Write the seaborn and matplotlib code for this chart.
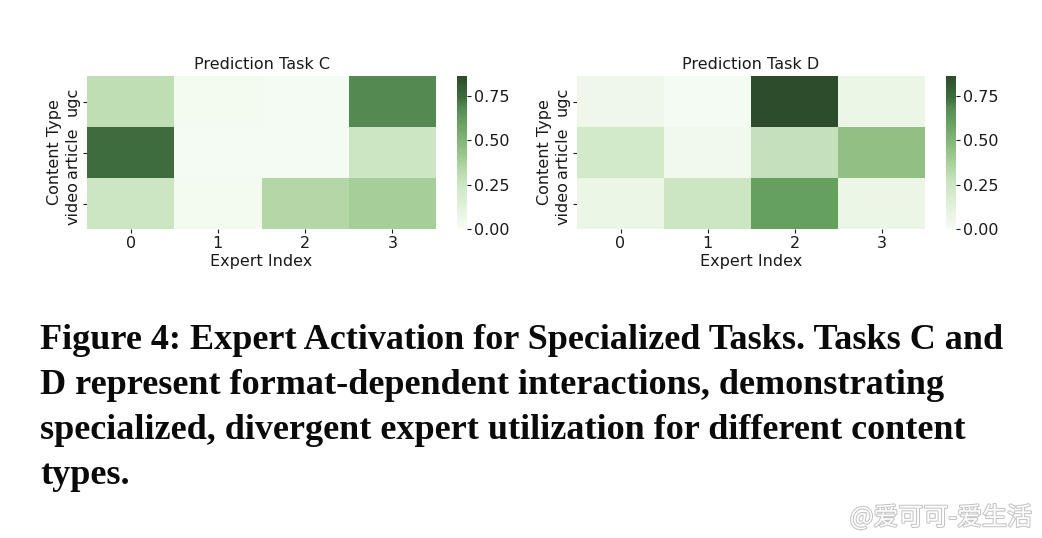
import numpy as np
import pandas as pd
import matplotlib
matplotlib.use("Agg")
import matplotlib.pyplot as plt
import matplotlib.patheffects as pe
from matplotlib.colors import LinearSegmentedColormap
import seaborn as sns

content_types = ["ugc", "article", "video"]
experts = ["0", "1", "2", "3"]
task_c = [
    [0.30, 0.03, 0.02, 0.68],
    [0.74, 0.02, 0.02, 0.25],
    [0.25, 0.03, 0.34, 0.38],
]
task_d = [
    [0.06, 0.02, 0.86, 0.07],
    [0.22, 0.04, 0.28, 0.45],
    [0.07, 0.25, 0.60, 0.07],
]
titles = ["Prediction Task C", "Prediction Task D"]
caption = ("Figure 4: Expert Activation for Specialized Tasks. Tasks C and\n"
           "D represent format-dependent interactions, demonstrating\n"
           "specialized, divergent expert utilization for different content\n"
           "types.")

sns.set_theme(style="white")
plt.rcParams['font.family'] = ['DejaVu Sans']
plt.rcParams['text.color'] = '#1a1a1a'
plt.rcParams['axes.labelcolor'] = '#1a1a1a'
plt.rcParams['xtick.color'] = '#1a1a1a'
plt.rcParams['ytick.color'] = '#1a1a1a'

cmap = LinearSegmentedColormap.from_list("greens_custom", [
    (0.00, "#f7fcf5"),
    (0.12, "#e6f3e0"),
    (0.30, "#cbe5c2"),
    (0.40, "#b2d6a5"),
    (0.52, "#92c084"),
    (0.70, "#66a05f"),
    (0.79, "#568a53"),
    (0.86, "#3f6d3e"),
    (1.00, "#2d4c2b"),
])
vmax = max(np.max(task_c), np.max(task_d))

fig = plt.figure(figsize=(10.42, 5.38), dpi=100)
W, H = 1042, 538
def rect(x0, y0, x1, y1):
    return [x0 / W, 1 - y1 / H, (x1 - x0) / W, (y1 - y0) / H]

axes = [fig.add_axes(rect(87, 76, 436, 229)), fig.add_axes(rect(577, 76, 925, 229))]
caxes = [fig.add_axes(rect(457, 76, 467, 229)), fig.add_axes(rect(946, 76, 956, 229))]

for ax, cax, data, title in zip(axes, caxes, [task_c, task_d], titles):
    df = pd.DataFrame(data, index=content_types, columns=experts)
    sns.heatmap(df, ax=ax, cbar_ax=cax, cmap=cmap, vmin=0, vmax=vmax)
    ax.set_title(title, fontsize=11.5, pad=5)
    ax.set_xlabel("Expert Index", fontsize=11.5, labelpad=2)
    ax.set_ylabel("Content Type", fontsize=11.5, labelpad=2)
    ax.tick_params(axis="both", labelsize=11.5, length=3, width=0.8, left=True, bottom=True, pad=2)
    ax.set_yticklabels(content_types, rotation=90, va="center")
    ax.set_xticklabels(experts, rotation=0)
    cax.tick_params(labelsize=11.5, length=3, width=0.8, right=True, pad=2)
    cax.set_yticks([0, 0.25, 0.5, 0.75])
    cax.set_yticklabels(["0.00", "0.25", "0.50", "0.75"])
    for s in cax.spines.values():
        s.set_visible(False)

fig.text(40 / W, 1 - 324 / H, caption, ha="left", va="top",
         fontsize=26, fontweight="bold", family=["Liberation Serif"],
         linespacing=1.48, color="#0a0a0a")

fig.text(1032 / W, 1 - 531 / H, "@爱可可-爱生活", ha="right", va="bottom",
         fontsize=18, color="white", family=["Noto Sans CJK SC", "DejaVu Sans"],
         path_effects=[pe.withStroke(linewidth=1.5, foreground="#c4c4c4")])

fig.savefig("out.png", dpi=100, facecolor="white")
